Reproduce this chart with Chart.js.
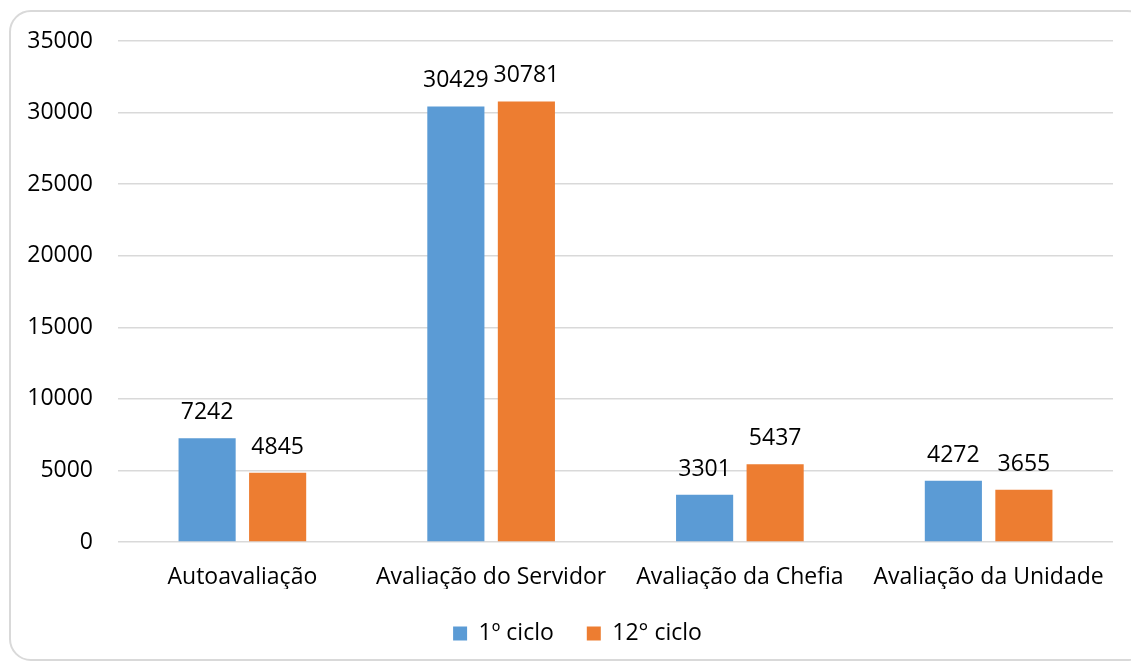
<!DOCTYPE html>
<html>
<head>
<meta charset="utf-8">
<script src="https://cdn.jsdelivr.net/npm/chart.js@4"></script>
<style>
  html, body { margin: 0; padding: 0; background: #fff; }
  #wrap { position: relative; width: 1131px; height: 666px; overflow: hidden; }
  #frame { position: absolute; left: 9px; top: 10px; width: 1140px; height: 651px;
           border: 2px solid #d9d9d9; border-radius: 22px; box-sizing: border-box; }
  canvas { position: absolute; left: 0; top: 0; }
</style>
</head>
<body>
<div id="wrap">
  <div id="frame"></div>
  <canvas id="c" width="1131" height="666"></canvas>
</div>
<script>
const categories = ["Autoavaliação", "Avaliação do Servidor", "Avaliação da Chefia", "Avaliação da Unidade"];
const seriesNames = ["1º ciclo", "12° ciclo"];
const cycle1 = [7242, 30429, 3301, 4272];
const cycle12 = [4845, 30781, 5437, 3655];
const yTicks = [0, 5000, 10000, 15000, 20000, 25000, 30000, 35000];

const FONT = "'Open Sans', 'Noto Sans', sans-serif";
const FS = 23;

const valueLabels = {
  id: 'valueLabels',
  afterDatasetsDraw(chart) {
    const ctx = chart.ctx;
    ctx.save();
    ctx.font = FS + "px " + FONT;
    ctx.fillStyle = "#000";
    ctx.textAlign = "center";
    ctx.textBaseline = "alphabetic";
    chart.data.datasets.forEach((ds, i) => {
      chart.getDatasetMeta(i).data.forEach((bar, j) => {
        ctx.fillText(String(ds.data[j]), bar.x, bar.y - 19);
      });
    });
    ctx.restore();
  }
};

// shift the legend's centring box to match the original's legend position
const legendShift = {
  id: 'legendShift',
  afterLayout(chart) {
    if (chart.legend) { chart.legend.left += 42; }
  }
};

Chart.defaults.font.family = FONT;
Chart.defaults.color = "#000";

new Chart(document.getElementById('c'), {
  type: 'bar',
  data: {
    labels: categories,
    datasets: [
      { label: seriesNames[0], data: cycle1, backgroundColor: '#5B9BD5',
        categoryPercentage: 0.567, barPercentage: 0.81 },
      { label: seriesNames[1], data: cycle12, backgroundColor: '#ED7D31',
        categoryPercentage: 0.567, barPercentage: 0.81 }
    ]
  },
  options: {
    responsive: false,
    animation: false,
    devicePixelRatio: 1,
    layout: { padding: { left: 0, right: 18, top: 41, bottom: 11 } },
    plugins: {
      legend: {
        position: 'bottom',
        labels: { boxWidth: 14, boxHeight: 14, padding: 33, font: { size: FS }, color: '#000',
                  generateLabels(chart) {
                    const items = Chart.defaults.plugins.legend.labels.generateLabels(chart);
                    items.forEach(it => { it.lineWidth = 0; });
                    return items;
                  } }
      },
      tooltip: { enabled: false }
    },
    scales: {
      x: {
        grid: { display: false },
        border: { display: false },
        ticks: { font: { size: FS }, color: '#000', padding: 14, maxRotation: 0, autoSkip: false },
        afterFit(s) { s.height = 47; }
      },
      y: {
        min: 0, max: 35000,
        grid: { color: '#d9d9d9', lineWidth: 1.5, drawTicks: false },
        border: { display: false },
        ticks: { font: { size: FS }, color: '#000', padding: 25, stepSize: 5000,
                 callback: v => yTicks.includes(v) ? String(v) : null },
        afterFit(s) { s.width = 118; }
      }
    }
  },
  plugins: [valueLabels, legendShift]
});
</script>
</body>
</html>
